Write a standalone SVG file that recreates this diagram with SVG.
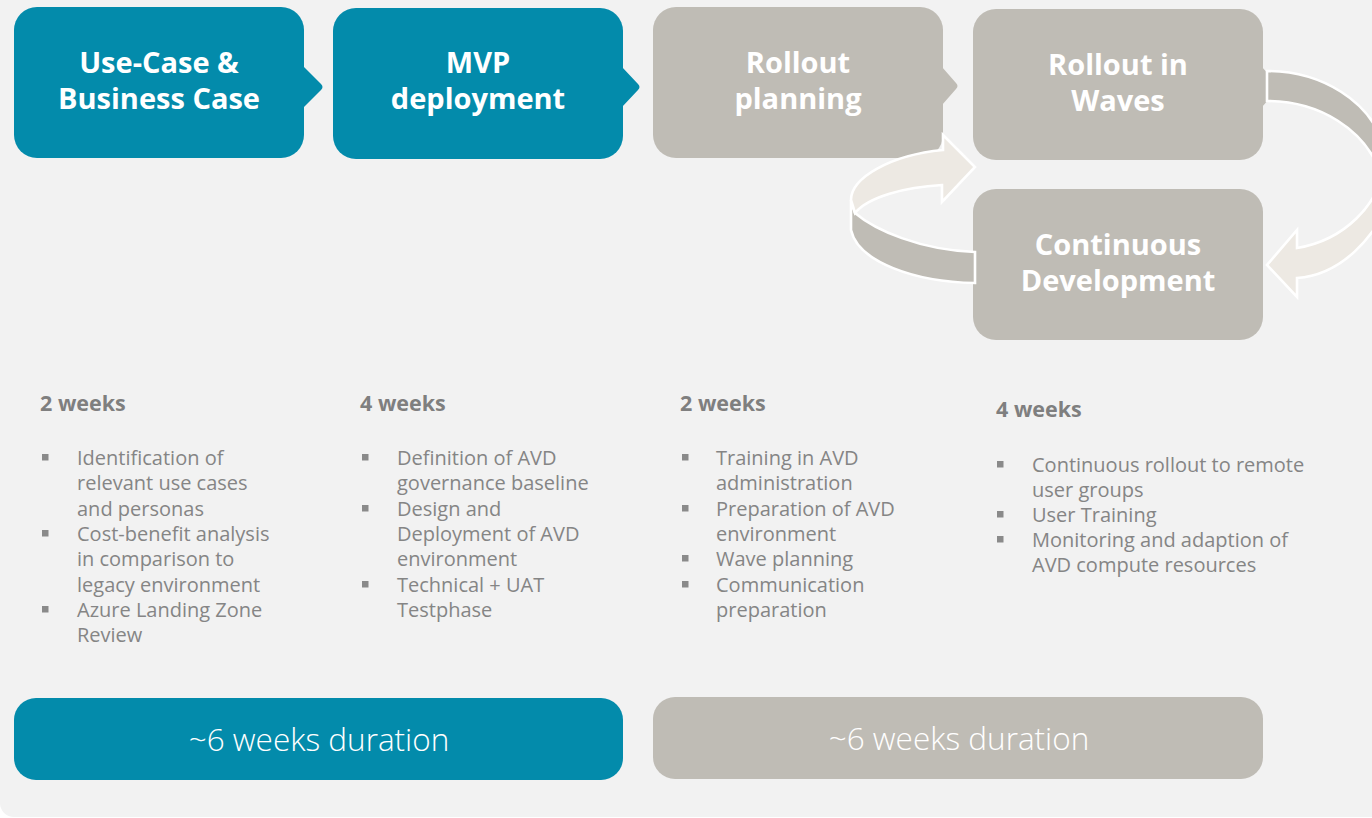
<svg xmlns="http://www.w3.org/2000/svg" width="1372" height="818" viewBox="0 0 1372 818">
<style>
.bg{fill:#f2f2f2}
.teal{fill:#038bab}
.grey{fill:#bfbcb5}
.title{font-family:"Open Sans","Noto Sans","Liberation Sans",sans-serif;font-weight:700;font-size:29px;fill:#ffffff;text-anchor:middle}
.head{font-family:"Open Sans","Noto Sans","Liberation Sans",sans-serif;font-weight:700;font-size:21.5px;fill:#7f7f7f}
.body{font-family:"Open Sans","Noto Sans","Liberation Sans",sans-serif;font-weight:400;font-size:20px;fill:#858585}
.bul{fill:#8a8a8a}
.dur{font-family:"Open Sans","Noto Sans","Liberation Sans",sans-serif;font-weight:300;font-size:31.5px;fill:#ffffff;text-anchor:middle}
.rib{stroke:#ffffff;stroke-width:2.6;stroke-linejoin:miter}
.ribdark{fill:#bfbcb5}
.riblight{fill:#ede9e3}
</style>
<rect x="0" y="0" width="1372" height="818" fill="#ffffff"/>
<rect class="bg" x="0" y="-30" width="1400" height="847" rx="14"/>

<g id="node-usecase">
<rect class="teal" x="14" y="7" width="290" height="151" rx="23"/>
<path class="teal" d="M303,66 L321,84 Q324,87 321,90 L303,108 Z"/>
<text class="title" x="159" y="73">Use-Case &amp;</text>
<text class="title" x="159" y="108.5">Business Case</text>
</g>

<g id="node-mvp">
<rect class="teal" x="333" y="8" width="290" height="151" rx="23"/>
<path class="teal" d="M622,67 L638,84 Q641,87 638,90 L622,107 Z"/>
<text class="title" x="478" y="73">MVP</text>
<text class="title" x="478" y="108.5">deployment</text>
</g>

<g id="node-rollout-planning">
<rect class="grey" x="653" y="7" width="290" height="151" rx="23"/>
<path class="grey" d="M942,67 L956,83 Q959,86 956,89 L942,105 Z"/>
<text class="title" x="798" y="73">Rollout</text>
<text class="title" x="798" y="108.5">planning</text>
</g>

<g id="node-rollout-waves">
<rect class="grey" x="973" y="9" width="290" height="151" rx="23"/>
<path class="grey" d="M1262,67 L1277,84 Q1280,87 1277,90 L1262,107 Z"/>
<text class="title" x="1118" y="75">Rollout in</text>
<text class="title" x="1118" y="110.5">Waves</text>
</g>

<g id="node-continuous">
<rect class="grey" x="973" y="189" width="290" height="151" rx="23"/>
<text class="title" x="1118" y="255">Continuous</text>
<text class="title" x="1118" y="290.5">Development</text>
</g>

<g id="connectors">
<path class="rib ribdark" d="M855,213 C875,230 920,250 975,252 L975,283 C915,282 858,262 851,230 L851,200 Z"/>
<path class="rib riblight" d="M943,150 L943,135 L975,167 L942,202 L942,185 C905,187 868,197 855,213 L851,200 C851,178 890,155 943,150 Z"/>
<path class="rib ribdark" d="M1267,71 C1320,71 1372,100 1385,150 L1395,150 L1395,172 L1380,172 C1365,130 1320,101 1267,101 Z"/>
<path class="rib riblight" d="M1385,165 C1378,205 1345,240 1297,248 L1297,230 L1267,265 L1297,297 L1297,278 C1340,275 1375,240 1395,190 L1400,165 Z"/>
</g>

<g id="col1">
<text class="head" x="40" y="411">2 weeks</text>
<rect class="bul" x="42" y="454" width="6.5" height="6.5"/>
<rect class="bul" x="42" y="530" width="6.5" height="6.5"/>
<rect class="bul" x="42" y="606" width="6.5" height="6.5"/>
<text class="body" x="77" y="465">Identification of</text>
<text class="body" x="77" y="490">relevant use cases</text>
<text class="body" x="77" y="516">and personas</text>
<text class="body" x="77" y="541">Cost-benefit analysis</text>
<text class="body" x="77" y="566">in comparison to</text>
<text class="body" x="77" y="592">legacy environment</text>
<text class="body" x="77" y="617">Azure Landing Zone</text>
<text class="body" x="77" y="642">Review</text>
</g>

<g id="col2">
<text class="head" x="360" y="411">4 weeks</text>
<rect class="bul" x="362" y="454" width="6.5" height="6.5"/>
<rect class="bul" x="362" y="505" width="6.5" height="6.5"/>
<rect class="bul" x="362" y="581" width="6.5" height="6.5"/>
<text class="body" x="397" y="465">Definition of AVD</text>
<text class="body" x="397" y="490">governance baseline</text>
<text class="body" x="397" y="516">Design and</text>
<text class="body" x="397" y="541">Deployment of AVD</text>
<text class="body" x="397" y="566">environment</text>
<text class="body" x="397" y="592">Technical + UAT</text>
<text class="body" x="397" y="617">Testphase</text>
</g>

<g id="col3">
<text class="head" x="680" y="411">2 weeks</text>
<rect class="bul" x="682" y="454" width="6.5" height="6.5"/>
<rect class="bul" x="682" y="505" width="6.5" height="6.5"/>
<rect class="bul" x="682" y="555" width="6.5" height="6.5"/>
<rect class="bul" x="682" y="581" width="6.5" height="6.5"/>
<text class="body" x="716" y="465">Training in AVD</text>
<text class="body" x="716" y="490">administration</text>
<text class="body" x="716" y="516">Preparation of AVD</text>
<text class="body" x="716" y="541">environment</text>
<text class="body" x="716" y="566">Wave planning</text>
<text class="body" x="716" y="592">Communication</text>
<text class="body" x="716" y="617">preparation</text>
</g>

<g id="col4">
<text class="head" x="996" y="417">4 weeks</text>
<rect class="bul" x="997" y="461" width="6.5" height="6.5"/>
<rect class="bul" x="997" y="511" width="6.5" height="6.5"/>
<rect class="bul" x="997" y="536" width="6.5" height="6.5"/>
<text class="body" x="1032" y="472">Continuous rollout to remote</text>
<text class="body" x="1032" y="497">user groups</text>
<text class="body" x="1032" y="522">User Training</text>
<text class="body" x="1032" y="547">Monitoring and adaption of</text>
<text class="body" x="1032" y="572">AVD compute resources</text>
</g>

<g id="bar-phase1">
<rect class="teal" x="14" y="698" width="609" height="82" rx="22"/>
<text class="dur" x="319" y="751">~6 weeks duration</text>
</g>

<g id="bar-phase2">
<rect class="grey" x="653" y="697" width="610" height="82" rx="22"/>
<text class="dur" x="959" y="750">~6 weeks duration</text>
</g>
</svg>
